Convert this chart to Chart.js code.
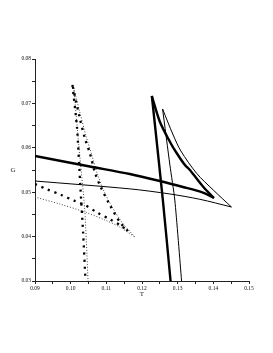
<!DOCTYPE html>
<html>
<head>
<meta charset="utf-8">
<script src="https://cdn.jsdelivr.net/npm/chart.js@4.4.1/dist/chart.umd.min.js"></script>
<style>
  html, body { margin: 0; padding: 0; background: #fff; }
  canvas { display: block; }
</style>
</head>
<body>
<canvas id="chart" width="273" height="353"></canvas>
<script>
// thick solid curve: lower branch, upper branch (back from the cusp), steep branch
const thickLowT = [0.0900, 0.10536, 0.11659, 0.12501, 0.13147, 0.13708, 0.14017];
const thickLowG = [0.05815, 0.05579, 0.05410, 0.05252, 0.05117, 0.04989, 0.04869];
const thickUpT = [0.14017, 0.13716, 0.13343, 0.13203, 0.12970, 0.12782, 0.12501, 0.12276];
const thickUpG = [0.04869, 0.05124, 0.05500, 0.05613, 0.05883, 0.06137, 0.06588, 0.07167];
const thickSteepT = [0.12276, 0.12585, 0.12801];
const thickSteepG = [0.07167, 0.04824, 0.0300];

// thin solid curve
const thinLowT = [0.0900, 0.11659, 0.12782, 0.13624, 0.14508];
const thinLowG = [0.05252, 0.05075, 0.04960, 0.04840, 0.04667];
const thinUpT = [0.14508, 0.13997, 0.13531, 0.13090, 0.12874, 0.12577];
const thinUpG = [0.04667, 0.05050, 0.05426, 0.05928, 0.06288, 0.06874];
const thinSteepT = [0.12577, 0.12782, 0.12920, 0.13110];
const thinSteepG = [0.06874, 0.05613, 0.04824, 0.0300];

// heavy dotted curve
const dotLowT = [0.0900, 0.09337, 0.09722, 0.10095, 0.10395, 0.10752, 0.11097, 0.11426, 0.11603];
const dotLowG = [0.05185, 0.05065, 0.04944, 0.04809, 0.04712, 0.04538, 0.04390, 0.04239, 0.04126];
const dotUpT = [0.11603, 0.11378, 0.11097, 0.10816, 0.10676, 0.10536, 0.10395, 0.10255, 0.10050];
const dotUpG = [0.04126, 0.04329, 0.04712, 0.05162, 0.05455, 0.05883, 0.06221, 0.06671, 0.07415];
const dotSteepT = [0.10050, 0.10179, 0.10269, 0.10348, 0.10415];
const dotSteepG = [0.07415, 0.06446, 0.05162, 0.04104, 0.0302];

// fine dotted curve
const fineLowT = [0.0900, 0.09693, 0.10395, 0.10957, 0.11378, 0.11799];
const fineLowG = [0.04892, 0.04734, 0.04554, 0.04374, 0.04216, 0.03991];
const fineUpT = [0.11799, 0.11434, 0.11181, 0.10957, 0.10760, 0.10592, 0.10423, 0.10255, 0.10086];
const fineUpG = [0.03991, 0.04329, 0.04644, 0.04982, 0.05387, 0.05838, 0.06288, 0.06806, 0.07347];
const fineSteepT = [0.10086, 0.10227, 0.10395, 0.10488];
const fineSteepG = [0.07347, 0.06063, 0.04599, 0.0300];

const tRange = [0.09, 0.15];
const gRange = [0.03, 0.08];

function pts(ts, gs) {
  return ts.map((t, i) => ({ x: t, y: gs[i] }));
}

const styles = {
  thick: { borderColor: '#000', borderWidth: 2.4, borderDash: [] },
  thin: { borderColor: '#000', borderWidth: 1, borderDash: [] },
  dots: { borderColor: '#000', borderWidth: 2.3, borderDash: [2.2, 4.8] },
  fine: { borderColor: '#444', borderWidth: 1, borderDash: [1, 1.8] }
};

function branch(ts, gs, kind, tension) {
  return Object.assign({
    data: pts(ts, gs),
    showLine: true,
    pointRadius: 0,
    tension: tension,
    fill: false,
    borderCapStyle: 'butt'
  }, styles[kind]);
}

const datasets = [
  branch(thickLowT, thickLowG, 'thick', 0.3),
  branch(thickUpT, thickUpG, 'thick', 0.3),
  branch(thickSteepT, thickSteepG, 'thick', 0.2),
  branch(thinLowT, thinLowG, 'thin', 0.3),
  branch(thinUpT, thinUpG, 'thin', 0.3),
  branch(thinSteepT, thinSteepG, 'thin', 0.2),
  branch(dotLowT, dotLowG, 'dots', 0.3),
  branch(dotUpT, dotUpG, 'dots', 0.3),
  branch(dotSteepT, dotSteepG, 'dots', 0.2),
  branch(fineLowT, fineLowG, 'fine', 0.3),
  branch(fineUpT, fineUpG, 'fine', 0.3),
  branch(fineSteepT, fineSteepG, 'fine', 0.2)
];

// axis names drawn upright, Maple style
const axisNames = {
  id: 'axisNames',
  afterDraw(chart) {
    const { ctx, chartArea } = chart;
    ctx.save();
    ctx.font = '7px "Liberation Serif"';
    ctx.fillStyle = '#222';
    ctx.textAlign = 'center';
    ctx.textBaseline = 'middle';
    ctx.fillText('G', chartArea.left - 22, (chartArea.top + chartArea.bottom) / 2);
    ctx.fillText('T', (chartArea.left + chartArea.right) / 2, chartArea.bottom + 13);
    ctx.restore();
  }
};

function majorOnly(value) {
  const n = Math.round(value * 1000);
  return n % 10 === 0 ? (n / 1000).toFixed(2) : '';
}

const tickFont = { family: 'Liberation Serif', size: 5.5 };

new Chart(document.getElementById('chart').getContext('2d'), {
  type: 'scatter',
  data: { datasets: datasets },
  options: {
    responsive: false,
    animation: false,
    devicePixelRatio: 1,
    layout: { padding: { top: 59, right: 24, bottom: 53, left: 0 } },
    plugins: {
      legend: { display: false },
      tooltip: { enabled: false }
    },
    scales: {
      x: {
        type: 'linear',
        min: tRange[0],
        max: tRange[1],
        afterFit: (s) => { s.height = 19; },
        border: { color: '#222', width: 1 },
        grid: { drawOnChartArea: false, drawTicks: true, tickLength: 3, color: '#222' },
        ticks: {
          stepSize: 0.005,
          autoSkip: false,
          maxRotation: 0,
          padding: 1,
          color: '#111',
          font: tickFont,
          callback: majorOnly
        }
      },
      y: {
        type: 'linear',
        min: gRange[0],
        max: gRange[1],
        afterFit: (s) => { s.width = 35; },
        border: { color: '#222', width: 1 },
        grid: { drawOnChartArea: false, drawTicks: true, tickLength: 3, color: '#222' },
        ticks: {
          stepSize: 0.005,
          autoSkip: false,
          padding: 1,
          color: '#111',
          font: tickFont,
          callback: majorOnly
        }
      }
    }
  },
  plugins: [axisNames]
});
</script>
</body>
</html>
